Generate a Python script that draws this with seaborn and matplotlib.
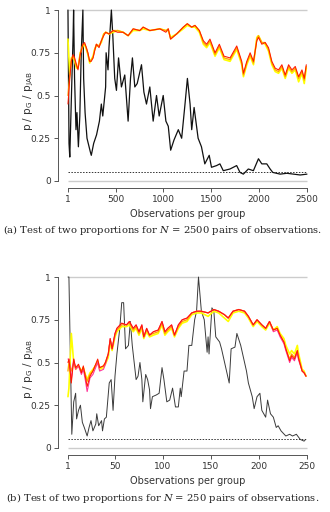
import numpy as np
import pandas as pd
import matplotlib
matplotlib.use("Agg")
import matplotlib.pyplot as plt
import seaborn as sns

# ---------------- data: panel (a), N = 2500 ----------------
x_a_p = [1, 12, 20, 40, 55, 60, 70, 85, 95, 110, 125, 140, 157, 165, 180, 200, 235, 245, 270, 300,
         330, 350, 365, 395, 400, 420, 430, 455, 470, 490, 508, 530, 560, 595, 630, 655, 675, 700, 725, 770,
         795, 822, 857, 892, 927, 955, 997, 1025, 1050, 1075, 1110, 1155, 1190, 1225, 1250, 1278, 1295, 1320, 1362, 1397,
         1432, 1478, 1502, 1555, 1590, 1625, 1695, 1765, 1800, 1835, 1887, 1940, 1993, 2028, 2080, 2115, 2143, 2220, 2290, 2360,
         2430, 2500]
p_a = [1.0, 0.22, 0.14, 0.55, 0.85, 1.0, 0.6, 0.3, 0.4, 0.2, 0.38, 0.75, 1.0, 0.6, 0.4, 0.25, 0.17, 0.15, 0.22, 0.27,
       0.35, 0.45, 0.38, 0.55, 0.75, 0.65, 0.78, 1.0, 0.85, 0.6, 0.53, 0.72, 0.55, 0.62, 0.35, 0.6, 0.72, 0.55, 0.57, 0.68,
       0.52, 0.45, 0.55, 0.35, 0.5, 0.38, 0.5, 0.35, 0.32, 0.18, 0.24, 0.3, 0.25, 0.45, 0.6, 0.45, 0.3, 0.43, 0.25, 0.2,
       0.1, 0.15, 0.08, 0.09, 0.1, 0.06, 0.07, 0.09, 0.05, 0.04, 0.07, 0.06, 0.13, 0.1, 0.1, 0.07, 0.05, 0.04, 0.045, 0.04,
       0.035, 0.04]

x_a = [1, 20, 36, 55, 71, 90, 106, 130, 158, 175, 193, 210, 228, 245, 263, 280, 298, 326, 350, 375,
       396, 430, 473, 520, 578, 630, 683, 752, 787, 857, 962, 1025, 1050, 1074, 1137, 1207, 1249, 1294, 1329, 1375,
       1417, 1451, 1486, 1539, 1584, 1633, 1696, 1766, 1801, 1818, 1836, 1871, 1906, 1941, 1976, 1993, 2028, 2063, 2098, 2133,
       2168, 2203, 2238, 2273, 2308, 2343, 2378, 2413, 2448, 2472, 2493]
red_a = [0.45, 0.6, 0.7, 0.74, 0.72, 0.68, 0.65, 0.74, 0.8, 0.81, 0.78, 0.75, 0.7, 0.7, 0.72, 0.76, 0.8, 0.78, 0.82, 0.85,
         0.87, 0.86, 0.88, 0.87, 0.87, 0.85, 0.89, 0.88, 0.9, 0.88, 0.89, 0.87, 0.89, 0.83, 0.86, 0.9, 0.92, 0.9, 0.91, 0.88,
         0.82, 0.8, 0.83, 0.75, 0.8, 0.73, 0.72, 0.79, 0.73, 0.7, 0.63, 0.7, 0.75, 0.7, 0.82, 0.84, 0.8, 0.81, 0.78, 0.7,
         0.66, 0.65, 0.68, 0.62, 0.68, 0.65, 0.67, 0.61, 0.65, 0.6, 0.68]
orange_a = [0.5, 0.62, 0.71, 0.73, 0.71, 0.67, 0.66, 0.75, 0.8, 0.8, 0.78, 0.74, 0.7, 0.71, 0.72, 0.77, 0.8, 0.79, 0.82, 0.86,
            0.87, 0.86, 0.88, 0.88, 0.87, 0.85, 0.89, 0.88, 0.9, 0.88, 0.89, 0.88, 0.89, 0.83, 0.86, 0.9, 0.92, 0.9, 0.91, 0.88,
            0.81, 0.79, 0.82, 0.74, 0.79, 0.72, 0.71, 0.78, 0.72, 0.69, 0.62, 0.69, 0.74, 0.69, 0.83, 0.85, 0.81, 0.81, 0.77, 0.69,
            0.65, 0.64, 0.67, 0.61, 0.67, 0.64, 0.66, 0.6, 0.64, 0.59, 0.67]
yellow_a = [0.83, 0.62, 0.72, 0.73, 0.7, 0.66, 0.66, 0.75, 0.79, 0.8, 0.77, 0.74, 0.69, 0.71, 0.73, 0.77, 0.79, 0.79, 0.81, 0.86,
            0.87, 0.86, 0.87, 0.88, 0.87, 0.85, 0.88, 0.88, 0.89, 0.88, 0.89, 0.88, 0.88, 0.84, 0.86, 0.89, 0.91, 0.9, 0.9, 0.87,
            0.8, 0.78, 0.81, 0.73, 0.78, 0.71, 0.7, 0.77, 0.71, 0.68, 0.61, 0.68, 0.73, 0.68, 0.84, 0.85, 0.81, 0.8, 0.76, 0.68,
            0.64, 0.63, 0.66, 0.6, 0.66, 0.63, 0.65, 0.58, 0.63, 0.57, 0.66]

# ---------------- data: panel (b), N = 250 ----------------
x_b_p = [1, 2, 5, 7, 9, 10, 12, 14, 16, 18, 21, 23, 25, 27, 30, 31, 33, 36, 37, 39,
         41, 44, 46, 48, 50, 52, 55, 57, 59, 61, 64, 66, 68, 72, 74, 76, 78, 79, 82, 84,
         86, 87, 89, 93, 96, 99, 101, 104, 107, 110, 113, 116, 118, 119, 122, 125, 127, 130, 133, 135,
         137, 140, 143, 146, 147, 148, 151, 153, 155, 159, 161, 165, 169, 171, 175, 177, 181, 183, 187, 189,
         193, 195, 198, 201, 203, 207, 209, 212, 215, 218, 220, 223, 228, 232, 235, 239, 243, 247, 248]
p_b = [1.0, 1.0, 0.08, 0.27, 0.32, 0.17, 0.22, 0.25, 0.15, 0.12, 0.07, 0.12, 0.16, 0.1, 0.14, 0.2, 0.13, 0.16, 0.1, 0.17,
       0.18, 0.38, 0.4, 0.22, 0.42, 0.55, 0.7, 0.85, 0.85, 0.58, 0.6, 0.74, 0.6, 0.4, 0.42, 0.5, 0.4, 0.27, 0.43, 0.4,
       0.34, 0.23, 0.3, 0.31, 0.32, 0.47, 0.4, 0.27, 0.28, 0.35, 0.24, 0.24, 0.35, 0.3, 0.45, 0.45, 0.6, 0.6, 0.75, 0.8,
       1.0, 0.8, 0.75, 0.56, 0.65, 0.55, 0.82, 0.8, 0.65, 0.62, 0.58, 0.48, 0.38, 0.58, 0.59, 0.67, 0.6, 0.55, 0.45, 0.38,
       0.3, 0.23, 0.3, 0.32, 0.22, 0.18, 0.28, 0.2, 0.18, 0.12, 0.13, 0.1, 0.07, 0.08, 0.07, 0.08, 0.05, 0.04, 0.045]

x_b = [1, 2, 4.5, 7, 9, 12, 15, 17, 19, 21, 24, 27, 32, 34, 38, 40, 43, 45, 47, 50,
       52, 57, 62, 65, 69, 72, 75, 78, 80, 83, 86, 90, 95, 99, 102, 105, 109, 112, 116, 120,
       125, 130, 135, 140, 147, 153, 158, 164, 168, 173, 179, 185, 189, 194, 198, 203, 207, 211, 215, 219,
       222, 226, 228, 232, 234, 237, 240, 241, 245, 247, 249]
red_b = [0.5, 0.52, 0.38, 0.52, 0.47, 0.49, 0.44, 0.48, 0.42, 0.36, 0.42, 0.45, 0.52, 0.47, 0.48, 0.5, 0.55, 0.64, 0.58, 0.67,
         0.7, 0.73, 0.72, 0.74, 0.7, 0.72, 0.68, 0.72, 0.65, 0.7, 0.66, 0.68, 0.69, 0.74, 0.68, 0.7, 0.72, 0.66, 0.72, 0.75,
         0.76, 0.79, 0.8, 0.8, 0.79, 0.81, 0.8, 0.78, 0.76, 0.8, 0.81, 0.8, 0.77, 0.72, 0.75, 0.72, 0.7, 0.74, 0.69, 0.7,
         0.66, 0.62, 0.58, 0.51, 0.54, 0.52, 0.57, 0.53, 0.45, 0.44, 0.42]
orange_b = [0.45, 0.5, 0.45, 0.5, 0.47, 0.48, 0.45, 0.47, 0.43, 0.39, 0.43, 0.45, 0.51, 0.47, 0.48, 0.5, 0.55, 0.63, 0.58, 0.66,
            0.69, 0.72, 0.72, 0.73, 0.69, 0.71, 0.67, 0.71, 0.65, 0.69, 0.66, 0.67, 0.68, 0.73, 0.67, 0.69, 0.71, 0.66, 0.71, 0.74,
            0.75, 0.79, 0.8, 0.8, 0.79, 0.81, 0.8, 0.78, 0.76, 0.8, 0.81, 0.8, 0.77, 0.72, 0.75, 0.72, 0.7, 0.74, 0.69, 0.7,
            0.66, 0.62, 0.58, 0.52, 0.55, 0.53, 0.57, 0.54, 0.45, 0.44, 0.42]
yellow_b = [0.3, 0.35, 0.67, 0.5, 0.46, 0.48, 0.45, 0.47, 0.43, 0.4, 0.44, 0.46, 0.5, 0.46, 0.47, 0.49, 0.53, 0.62, 0.57, 0.65,
            0.68, 0.71, 0.71, 0.72, 0.68, 0.7, 0.66, 0.7, 0.64, 0.68, 0.65, 0.66, 0.67, 0.72, 0.66, 0.68, 0.7, 0.65, 0.7, 0.73,
            0.74, 0.78, 0.79, 0.79, 0.77, 0.8, 0.79, 0.76, 0.74, 0.79, 0.8, 0.79, 0.76, 0.71, 0.74, 0.71, 0.69, 0.73, 0.69, 0.71,
            0.67, 0.64, 0.6, 0.55, 0.57, 0.55, 0.6, 0.56, 0.46, 0.45, 0.42]
pink_b = [0.52, 0.52, 0.4, 0.52, 0.46, 0.48, 0.43, 0.46, 0.4, 0.33, 0.41, 0.43, 0.5, 0.45, 0.46, 0.49, 0.55, 0.64, 0.58, 0.67,
          0.7, 0.73, 0.72, 0.74, 0.7, 0.72, 0.68, 0.72, 0.65, 0.7, 0.66, 0.68, 0.69, 0.74, 0.68, 0.7, 0.72, 0.66, 0.72, 0.75,
          0.76, 0.79, 0.8, 0.8, 0.79, 0.81, 0.8, 0.78, 0.76, 0.8, 0.81, 0.8, 0.77, 0.72, 0.75, 0.72, 0.7, 0.74, 0.68, 0.69,
          0.65, 0.61, 0.57, 0.5, 0.53, 0.51, 0.56, 0.52, 0.45, 0.44, 0.42]

yticks = [0, 0.25, 0.5, 0.75, 1]
ytick_labels = ["0", "0.25", "0.5", "0.75", "1"]
xticks_a = [1, 500, 1000, 1500, 2000, 2500]
xticks_b = [1, 50, 100, 150, 200, 250]
alpha_level = 0.05
xlabel = "Observations per group"
ylabel = r"p / $\mathregular{p_G}$ / $\mathregular{p_{JAB}}$"
caption_a = r"(a) Test of two proportions for $N$ = 2500 pairs of observations."
caption_b = r"(b) Test of two proportions for $N$ = 250 pairs of observations."

palette = {"yellow": "#ffff00", "orange": "#ffa500", "pink": "#ff3399", "red": "#ff1a00"}
widths = {"yellow": 1.2, "orange": 0.95, "pink": 0.8, "red": 0.75}

sns.set_style("white")
plt.rcParams["font.family"] = ["DejaVu Sans"]
plt.rcParams["mathtext.fontset"] = "dejavusans"

W, H = 330, 512
fig = plt.figure(figsize=(W / 100, H / 100), dpi=100)

def make_axes(top_px, bottom_px):
    return fig.add_axes([58.4 / W, 1 - bottom_px / H, 258.1 / W, (bottom_px - top_px) / H])

ax1 = make_axes(3.2, 187.8)
ax2 = make_axes(270.2, 454.8)

def draw(ax, x_p, p, x_c, series, xmax, xticks, black_color, black_lw, caption, cap_y, label_y):
    ax.hlines([0, 1], 1, xmax, color="#cccccc", lw=1.0, zorder=1)
    ax.hlines([alpha_level], 1, xmax, color="#333333", lw=0.7, linestyles=(0, (1.5, 1.5)), zorder=2)
    sns.lineplot(x=x_p, y=p, ax=ax, color=black_color, lw=black_lw, estimator=None, sort=False, zorder=3)
    for name, vals in series:
        sns.lineplot(x=x_c, y=vals, ax=ax, color=palette[name], lw=widths[name], estimator=None,
                     sort=False, zorder=4)
    rng = xmax - 1
    ax.set_xlim(1 - 0.04 * rng, xmax + 0.04 * rng)
    ax.set_ylim(-0.04, 1.04)
    for s in ["top", "right"]:
        ax.spines[s].set_visible(False)
    ax.spines["left"].set_bounds(0, 1)
    ax.spines["bottom"].set_bounds(1, xmax)
    for s in ["left", "bottom"]:
        ax.spines[s].set_color("#555555")
        ax.spines[s].set_linewidth(0.7)
    ax.set_yticks(yticks)
    ax.set_yticklabels(ytick_labels)
    ax.set_xticks(xticks)
    ax.set_xticklabels([str(t) for t in xticks])
    ax.tick_params(axis="both", direction="out", length=3, width=0.7, color="#555555",
                   labelsize=6.5, labelcolor="#333333", pad=2.5, left=True, bottom=True)
    ax.set_xlabel(xlabel, fontsize=7, color="#333333", labelpad=3)
    ax.set_ylabel(ylabel, fontsize=7.5, color="#333333")
    ax.yaxis.set_label_coords(-0.087, label_y)
    ax.set_facecolor("white")
    fig.text(163 / W, 1 - cap_y / H, caption, ha="center", va="center", fontsize=7.2,
             family="DejaVu Serif", color="#222222", math_fontfamily="dejavuserif")

draw(ax1, x_a_p, p_a, x_a,
     [("yellow", yellow_a), ("orange", orange_a), ("red", red_a)],
     2500, xticks_a, "#111111", 0.9, caption_a, 230, 0.47)
draw(ax2, x_b_p, p_b, x_b,
     [("yellow", yellow_b), ("orange", orange_b), ("pink", pink_b), ("red", red_b)],
     250, xticks_b, "#3a3a3a", 0.7, caption_b, 498, 0.465)

fig.savefig("out.png", dpi=100, facecolor="white")
